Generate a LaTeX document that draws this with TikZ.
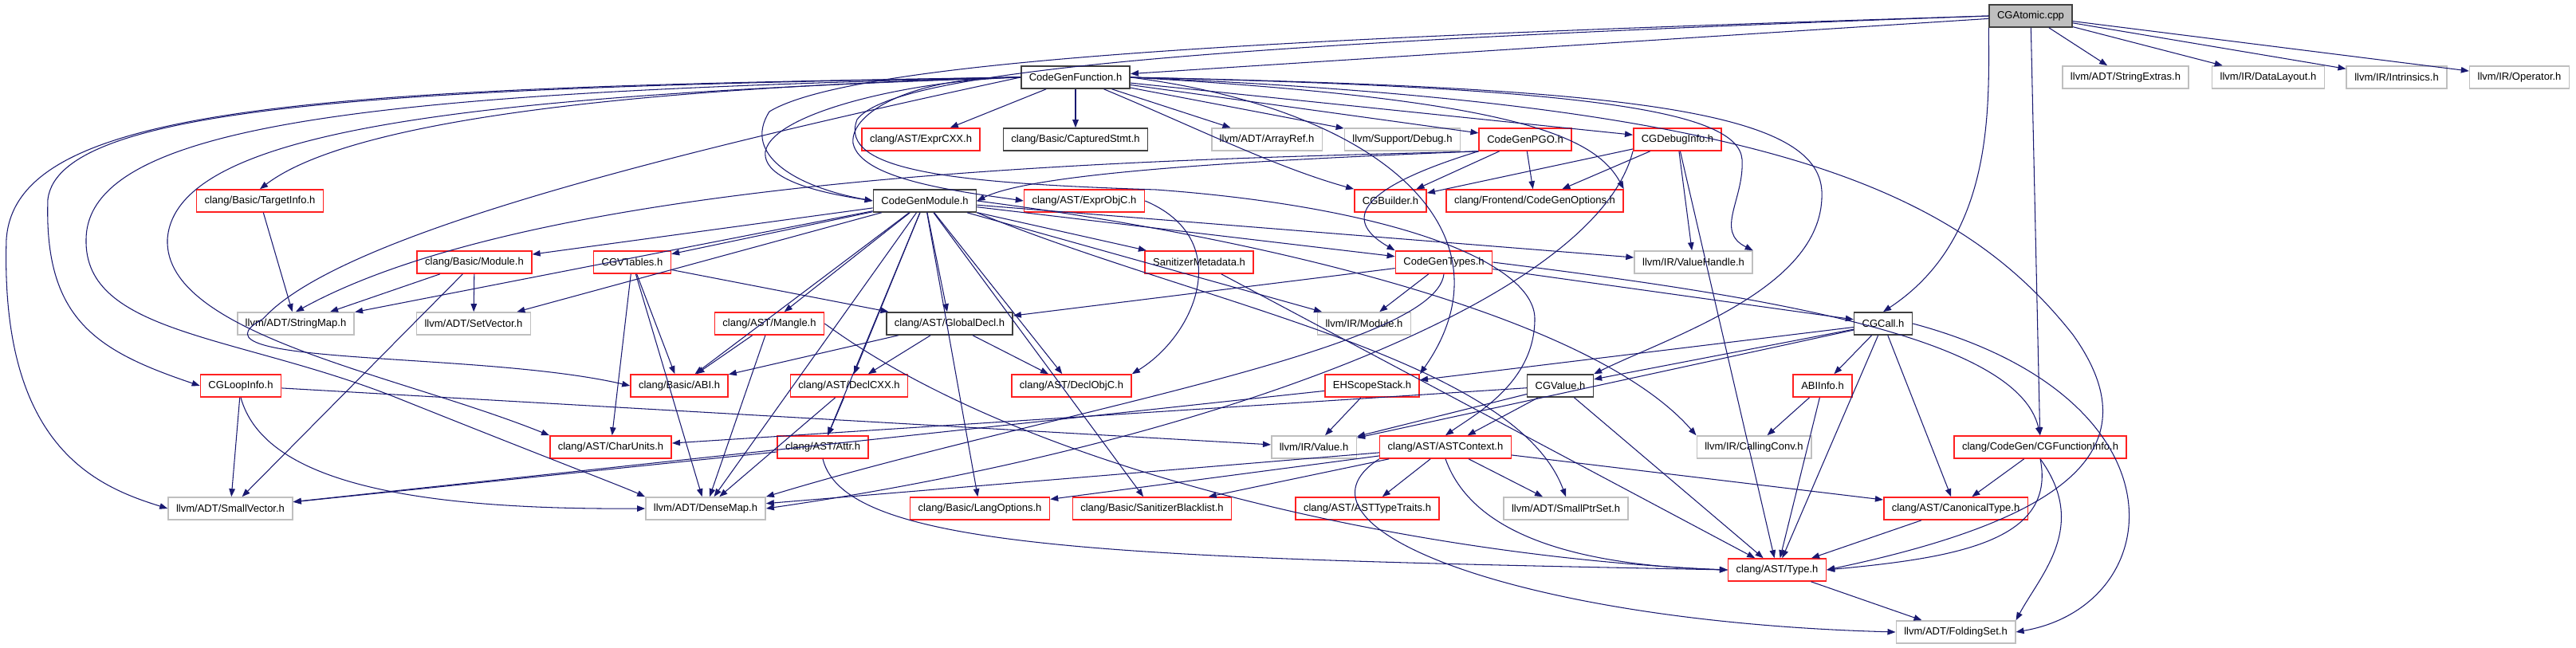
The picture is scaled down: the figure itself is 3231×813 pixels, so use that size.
\documentclass[tikz,border=0pt]{standalone}
\usepackage{fontspec}
\setmainfont{Liberation Sans}
\usepackage{tikz}
\usetikzlibrary{arrows.meta}
\definecolor{edgeblue}{HTML}{191970}
\definecolor{boxgray}{HTML}{BFBFBF}
\definecolor{boxdark}{HTML}{404040}
\definecolor{boxred}{HTML}{FF2020}
\tikzset{
	hdr/.style={rectangle, minimum height=0.28cm, inner xsep=0.1cm, inner ysep=0pt, line width=0.45pt, font=\fontsize{3.7}{4.4}\selectfont},
	redbox/.style={hdr, draw=boxred},
	graybox/.style={hdr, draw=boxgray},
	blackbox/.style={hdr, draw=boxdark},
	rootbox/.style={hdr, draw=boxdark, fill=boxgray},
	dep/.style={draw=edgeblue, line width=0.3pt, -{Triangle[length=0.1cm,width=0.075cm]}}
}

\begin{document}
\begin{tikzpicture}[x=0.01cm, y=-0.01cm]
			%%%%% START %%%%%
			\useasboundingbox (0,0) rectangle (3231,813);
			
			\node[rootbox] (atomic) at (2547,20) {CGAtomic.cpp};
			
			\node[blackbox] (cgf) at (1349,97) {CodeGenFunction.h};
			\node[graybox] (strext) at (2666,97) {llvm/ADT/StringExtras.h};
			\node[graybox] (datalayout) at (2845,97) {llvm/IR/DataLayout.h};
			\node[graybox] (intrinsics) at (3006,97) {llvm/IR/Intrinsics.h};
			\node[graybox] (operator) at (3160,97) {llvm/IR/Operator.h};
			
			\node[redbox] (exprcxx) at (1155,175) {clang/AST/ExprCXX.h};
			\node[blackbox] (captured) at (1349,175) {clang/Basic/CapturedStmt.h};
			\node[graybox] (arrayref) at (1589,175) {llvm/ADT/ArrayRef.h};
			\node[graybox] (debug) at (1759,175) {llvm/Support/Debug.h};
			\node[redbox] (pgo) at (1913,175) {CodeGenPGO.h};
			\node[redbox] (debuginfo) at (2104,175) {CGDebugInfo.h};
			
			\node[redbox] (targetinfo) at (326,252) {clang/Basic/TargetInfo.h};
			\node[blackbox] (cgm) at (1160,252) {CodeGenModule.h};
			\node[redbox] (exprobjc) at (1360,252) {clang/AST/ExprObjC.h};
			\node[redbox] (builder) at (1744,252) {CGBuilder.h};
			\node[redbox] (cgopts) at (1925,252) {clang/Frontend/CodeGenOptions.h};
			
			\node[redbox] (bmodule) at (595,329) {clang/Basic/Module.h};
			\node[redbox] (vtables) at (793,329) {CGVTables.h};
			\node[redbox] (sanmeta) at (1504,329) {SanitizerMetadata.h};
			\node[redbox] (types) at (1811,329) {CodeGenTypes.h};
			\node[graybox] (valuehandle) at (2124,329) {llvm/IR/ValueHandle.h};
			
			\node[graybox] (stringmap) at (371,406) {llvm/ADT/StringMap.h};
			\node[graybox] (setvector) at (594,406) {llvm/ADT/SetVector.h};
			\node[redbox] (mangle) at (965,406) {clang/AST/Mangle.h};
			\node[blackbox] (globaldecl) at (1191,406) {clang/AST/GlobalDecl.h};
			\node[graybox] (irmodule) at (1711,406) {llvm/IR/Module.h};
			\node[blackbox] (cgcall) at (2362,406) {CGCall.h};
			
			\node[redbox] (loopinfo) at (302,484) {CGLoopInfo.h};
			\node[redbox] (abi) at (852,484) {clang/Basic/ABI.h};
			\node[redbox] (declcxx) at (1065,484) {clang/AST/DeclCXX.h};
			\node[redbox] (declobjc) at (1344,484) {clang/AST/DeclObjC.h};
			\node[redbox] (ehscope) at (1721,484) {EHScopeStack.h};
			\node[blackbox] (cgvalue) at (1957,484) {CGValue.h};
			\node[redbox] (abiinfo) at (2286,484) {ABIInfo.h};
			
			\node[redbox] (charunits) at (766,561) {clang/AST/CharUnits.h};
			\node[redbox] (attr) at (1032,561) {clang/AST/Attr.h};
			\node[graybox] (value) at (1648,561) {llvm/IR/Value.h};
			\node[redbox] (astctx) at (1813,561) {clang/AST/ASTContext.h};
			\node[graybox] (callconv) at (2200,561) {llvm/IR/CallingConv.h};
			\node[redbox] (fninfo) at (2559,561) {clang/CodeGen/CGFunctionInfo.h};
			
			\node[graybox] (smallvec) at (289,638) {llvm/ADT/SmallVector.h};
			\node[graybox] (densemap) at (885,638) {llvm/ADT/DenseMap.h};
			\node[redbox] (langopts) at (1229,638) {clang/Basic/LangOptions.h};
			\node[redbox] (sanblack) at (1445,638) {clang/Basic/SanitizerBlacklist.h};
			\node[redbox] (asttraits) at (1715,638) {clang/AST/ASTTypeTraits.h};
			\node[graybox] (smallptr) at (1964,638) {llvm/ADT/SmallPtrSet.h};
			\node[redbox] (canon) at (2453,638) {clang/AST/CanonicalType.h};
			
			\node[redbox] (type) at (2229,715) {clang/AST/Type.h};
			\node[graybox] (folding) at (2453,793) {llvm/ADT/FoldingSet.h};
			
			% CGAtomic.cpp
			\draw[dep] (atomic) -- (cgf);
			\draw[dep] (atomic) -- (strext);
			\draw[dep] (atomic) -- (datalayout);
			\draw[dep] (atomic) -- (intrinsics);
			\draw[dep] (atomic) -- (operator);
			\draw[dep] (atomic) -- (fninfo);
			\draw[dep] (atomic.south west) .. controls (2495,140) and (2500,300) .. (cgcall.north);
			\draw[dep] (atomic.west) .. controls (1700,45) and (1080,70) .. (965,140) .. controls (930,195) and (1000,235) .. (cgm.west);
			\draw[dep] (atomic.west) .. controls (1500,55) and (1120,90) .. (1075,150) .. controls (1050,215) and (1200,230) .. (1450,238) .. controls (1750,260) and (1925,330) .. (1925,400) .. controls (1925,480) and (1850,520) .. (astctx.north);
			
			% CodeGenFunction.h
			\draw[dep] (cgf) -- (exprcxx);
			\draw[dep] (cgf) -- (captured);
			\draw[dep] (cgf) -- (arrayref);
			\draw[dep] (cgf) -- (debug);
			\draw[dep] (cgf) -- (pgo);
			\draw[dep] (cgf) -- (debuginfo);
			\draw[dep] (cgf) .. controls (1500,160) and (1600,210) .. (builder.north west);
			\draw[dep] (cgf.east) .. controls (1900,125) and (2000,170) .. (cgopts.north east);
			\draw[dep] (cgf.west) .. controls (1150,100) and (970,140) .. (960,190) .. controls (955,230) and (1050,245) .. (cgm.west);
			\draw[dep] (cgf.west) .. controls (1150,95) and (1065,140) .. (1070,180) .. controls (1080,225) and (1200,240) .. (exprobjc.west);
			\draw[dep] (cgf.east) .. controls (2000,110) and (2180,140) .. (2185,200) .. controls (2188,250) and (2150,290) .. (valuehandle.north east);
			\draw[dep] (cgf.east) .. controls (2050,110) and (2280,140) .. (2285,240) .. controls (2290,360) and (2100,420) .. (cgvalue.north east);
			\draw[dep] (cgf.east) .. controls (1750,140) and (1900,300) .. (ehscope.north east);
			\draw[dep] (cgf.east) .. controls (2200,130) and (2450,230) .. (2600,420) .. controls (2700,560) and (2600,650) .. (type.east);
			\draw[dep] (cgf.west) .. controls (800,110) and (440,150) .. (targetinfo.north);
			\draw[dep] (cgf.west) .. controls (500,110) and (75,130) .. (60,250) .. controls (55,400) and (120,440) .. (loopinfo.west);
			\draw[dep] (cgf.west) .. controls (400,110) and (20,130) .. (8,300) .. controls (0,560) and (120,610) .. (smallvec.west);
			\draw[dep] (cgf.west) .. controls (500,115) and (110,150) .. (108,300) .. controls (105,420) and (300,420) .. (500,500) .. controls (700,580) and (780,610) .. (densemap.north west);
			\draw[dep] (cgf.west) .. controls (600,120) and (220,160) .. (210,300) .. controls (205,420) and (500,470) .. (charunits.north west);
			\draw[dep] (cgf.west) .. controls (800,200) and (420,300) .. (330,400) .. controls (220,460) and (600,440) .. (abi.west);
			
			% CodeGenModule.h
			\draw[dep] (cgm) -- (vtables);
			\draw[dep] (cgm) -- (bmodule);
			\draw[dep] (cgm) -- (sanmeta);
			\draw[dep] (cgm) -- (types);
			\draw[dep] (cgm) -- (valuehandle);
			\draw[dep] (cgm) -- (irmodule);
			\draw[dep] (cgm) -- (globaldecl);
			\draw[dep] (cgm) -- (mangle);
			\draw[dep] (cgm) -- (declcxx);
			\draw[dep] (cgm) -- (declobjc);
			\draw[dep] (cgm) -- (abi);
			\draw[dep] (cgm) -- (langopts);
			\draw[dep] (cgm) -- (sanblack);
			\draw[dep] (cgm) -- (attr);
			\draw[dep] (cgm) -- (densemap);
			\draw[dep] (cgm) -- (setvector);
			\draw[dep] (cgm) -- (stringmap);
			\draw[dep] (cgm.south east) .. controls (1500,380) and (1900,450) .. (smallptr.north);
			\draw[dep] (cgm.east) .. controls (1600,300) and (2000,400) .. (callconv.north west);
			
			% CodeGenPGO.h and CGDebugInfo.h
			\draw[dep] (pgo) -- (builder);
			\draw[dep] (pgo) -- (cgopts);
			\draw[dep] (pgo.south west) .. controls (1600,200) and (1300,215) .. (cgm.east);
			\draw[dep] (pgo.south west) .. controls (1690,240) and (1690,280) .. (types.north west);
			\draw[dep] (pgo.south west) .. controls (1500,200) and (700,210) .. (stringmap.north);
			\draw[dep] (debuginfo) -- (builder);
			\draw[dep] (debuginfo) -- (cgopts);
			\draw[dep] (debuginfo) -- (valuehandle);
			\draw[dep] (debuginfo) -- (type);
			\draw[dep] (debuginfo.south west) .. controls (2000,380) and (1500,560) .. (densemap.east);
			
			% CodeGenTypes.h
			\draw[dep] (types) -- (cgcall);
			\draw[dep] (types) -- (globaldecl);
			\draw[dep] (types) -- (irmodule);
			\draw[dep] (types.east) .. controls (2200,370) and (2530,420) .. (fninfo.north);
			\draw[dep] (types.south) .. controls (1800,440) and (1300,520) .. (densemap.north east);
			
			\draw[dep] (targetinfo) -- (stringmap);
			\draw[dep] (bmodule) -- (stringmap);
			\draw[dep] (bmodule) -- (setvector);
			\draw[dep] (bmodule) -- (smallvec);
			\draw[dep] (vtables) -- (charunits);
			\draw[dep] (vtables) -- (globaldecl);
			\draw[dep] (vtables) -- (abi);
			\draw[dep] (vtables) -- (densemap);
			\draw[dep] (sanmeta) -- (type);
			\draw[dep] (exprobjc.east) .. controls (1550,300) and (1500,420) .. (declobjc.north east);
			\draw[dep] (mangle) -- (abi);
			\draw[dep] (mangle) -- (densemap);
			\draw[dep] (mangle.east) .. controls (1300,600) and (1800,700) .. (type.west);
			\draw[dep] (globaldecl) -- (declcxx);
			\draw[dep] (globaldecl) -- (declobjc);
			\draw[dep] (globaldecl) -- (abi);
			
			% CGCall.h
			\draw[dep] (cgcall) -- (abiinfo);
			\draw[dep] (cgcall) -- (canon);
			\draw[dep] (cgcall) -- (type);
			\draw[dep] (cgcall) -- (ehscope);
			\draw[dep] (cgcall) -- (cgvalue);
			\draw[dep] (cgcall) -- (value);
			\draw[dep] (cgcall.east) .. controls (2750,500) and (2720,760) .. (folding.east);
			
			\draw[dep] (loopinfo) -- (smallvec);
			\draw[dep] (loopinfo) -- (value);
			\draw[dep] (loopinfo.south) .. controls (330,600) and (500,640) .. (densemap.west);
			\draw[dep] (declcxx) -- (attr);
			\draw[dep] (declcxx) -- (densemap);
			\draw[dep] (ehscope) -- (value);
			\draw[dep] (ehscope) -- (smallvec);
			\draw[dep] (cgvalue) -- (value);
			\draw[dep] (cgvalue) -- (astctx);
			\draw[dep] (cgvalue) -- (charunits);
			\draw[dep] (cgvalue) -- (type);
			\draw[dep] (abiinfo) -- (callconv);
			\draw[dep] (abiinfo) -- (type);
			\draw[dep] (attr) -- (smallvec);
			\draw[dep] (attr.south) .. controls (1060,690) and (1400,700) .. (type.west);
			
			% ASTContext.h
			\draw[dep] (astctx) -- (asttraits);
			\draw[dep] (astctx) -- (smallptr);
			\draw[dep] (astctx) -- (canon);
			\draw[dep] (astctx) -- (langopts);
			\draw[dep] (astctx) -- (sanblack);
			\draw[dep] (astctx) -- (densemap);
			\draw[dep] (astctx.south) .. controls (1850,680) and (2000,710) .. (type.west);
			\draw[dep] (astctx.south west) .. controls (1600,660) and (1900,780) .. (folding.west);
			
			\draw[dep] (fninfo) -- (canon);
			\draw[dep] (fninfo.south) .. controls (2580,680) and (2450,700) .. (type.east);
			\draw[dep] (fninfo.south) .. controls (2620,660) and (2560,720) .. (folding.north east);
			\draw[dep] (canon) -- (type);
			\draw[dep] (type) -- (folding);
			
			%%%%% END %%%%%
		\end{tikzpicture}
\end{document}
